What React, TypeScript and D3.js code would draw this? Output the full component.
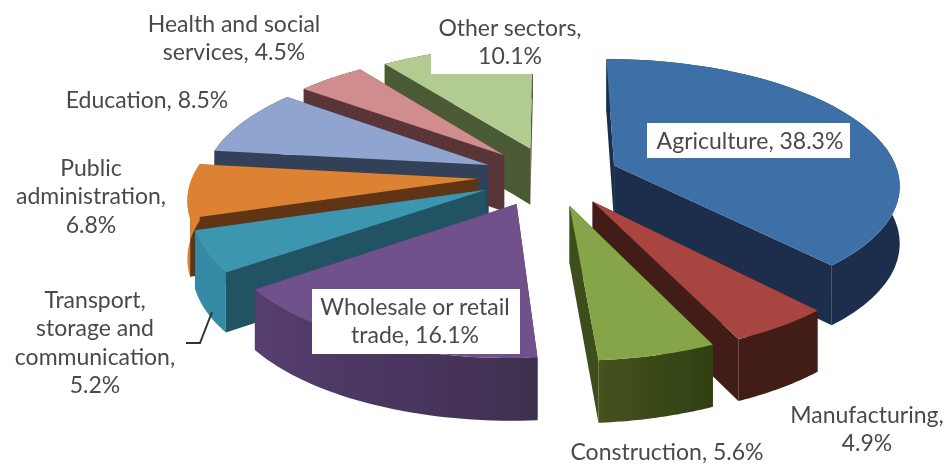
import React from "react";
import * as d3 from "d3";

const sectors = ["Agriculture","Manufacturing","Construction","Wholesale or retail trade","Transport, storage and communication","Public administration","Education","Health and social services","Other sectors"];
const shares = [38.3,4.9,5.6,16.1,5.2,6.8,8.5,4.5,10.1];
const topColors = ["#3e6fa6","#a94540","#86a549","#71518c","#3e96b0","#dd8233","#8fa4cf","#cf8d8d","#b2cb91"];
const sideColors = ["#1a2f4b","#431a16","#3c4d1b","#4c3666","#225263","#5e3413","#323f58","#5a3637","#4a5a35"];
const rimStart = ["#1a2f4b","#431a16","#45521f","#553d6f","#358ba6","#dd8233","#323f58","#5a3637","#4a5a35"];
const rimEnd = ["#1a2f4b","#431a16","#2f4010","#3e2f4f","#358ba6","#dd8233","#323f58","#5a3637","#4a5a35"];
const labels: {lines:string[];x:number;y:number;box?:[number,number,number,number]}[] = [
  {lines:["Agriculture, 38.3%"],x:750,y:149,box:[647,123,203,35]},
  {lines:["Manufacturing,","4.9%"],x:867,y:423},
  {lines:["Construction, 5.6%"],x:667,y:460},
  {lines:["Wholesale or retail","trade, 16.1%"],x:415,y:315,box:[312,289,208,65]},
  {lines:["Transport,","storage and","communication,","5.2%"],x:95,y:308},
  {lines:["Public","administration,","6.8%"],x:91,y:176},
  {lines:["Education, 8.5%"],x:147,y:108},
  {lines:["Health and social","services, 4.5%"],x:234,y:32},
  {lines:["Other sectors,","10.1%"],x:510,y:36,box:[431,12,160,62]},
];

const cx=546, cy=176, Sx=285, Sy=124, K=0.14, EXPLODE=0.24, DEPTH=57;
const sliceNudge = [5,8,6,0,2,0,5,5,5];
function project(X:number,Y:number,bottom:boolean,dx:number):[number,number]{
  const w=1+K*Y;
  const sx=cx+dx+Sx*X/w;
  const sy=cy-Sy*Y/w+(bottom?DEPTH/Math.sqrt(w):0);
  return [sx,sy];
}
const line=d3.line().curve(d3.curveLinearClosed);
const pieGen=d3.pie<number>().sort(null).startAngle(0).endAngle(2*Math.PI);

export default function App(){
  const arcs=pieGen(shares);
  const slices=arcs.map((a,i)=>{
    const mid=(a.startAngle+a.endAngle)/2;
    const ox=Math.sin(mid)*EXPLODE, oy=Math.cos(mid)*EXPLODE;
    const angles=d3.range(0,41).map(t=>a.startAngle+(a.endAngle-a.startAngle)*t/40);
    const rimW=angles.map(t=>[ox+Math.sin(t),oy+Math.cos(t)] as [number,number]);
    const apex:[number,number]=[ox,oy];
    const top=(p:[number,number])=>project(p[0],p[1],false,sliceNudge[i]);
    const bot=(p:[number,number])=>project(p[0],p[1],true,sliceNudge[i]);
    return {i,mid,
      topPath:line([top(apex),...rimW.map(top)])!,
      rimPath:line([...rimW.map(top),...rimW.slice().reverse().map(bot)])!,
      startWall:line([top(apex),top(rimW[0]),bot(rimW[0]),bot(apex)])!,
      endWall:line([top(apex),top(rimW[40]),bot(rimW[40]),bot(apex)])!,
    };
  });
  const order=slices.slice().sort((a,b)=>Math.cos(b.mid)-Math.cos(a.mid));
  return (
    <svg width={947} height={464} style={{position:"absolute",left:0,top:0,background:"#fff"}} fontFamily="Lato" fontSize={23} fill="#4a4a4a">
      <defs>
        <filter id="soft" x="-2%" y="-2%" width="104%" height="104%">
          <feGaussianBlur stdDeviation="0.6"/>
        </filter>
        {sectors.map((_,i)=>(
          <linearGradient key={i} id={`rim${i}`}>
            <stop offset="0" stopColor={rimStart[i]}/>
            <stop offset="1" stopColor={rimEnd[i]}/>
          </linearGradient>
        ))}
      </defs>
      <g filter="url(#soft)">
        <g>
          {order.map(s=>(
            <g key={s.i}>
              <path d={s.startWall} fill={sideColors[s.i]}/>
              <path d={s.endWall} fill={sideColors[s.i]}/>
              <path d={s.rimPath} fill={`url(#rim${s.i})`}/>
              <path d={s.topPath} fill={topColors[s.i]}/>
            </g>
          ))}
        </g>
        <path d="M212,312L200,343L186,343" fill="none" stroke="#333" strokeWidth={2}/>
        {labels.map((l,i)=>(
          <g key={sectors[i]}>
            {l.box && <rect x={l.box[0]} y={l.box[1]} width={l.box[2]} height={l.box[3]} fill="#fff"/>}
            <text textAnchor="middle">
              {l.lines.map((t,j)=><tspan key={j} x={l.x} y={l.y+j*28.3}>{t}</tspan>)}
            </text>
          </g>
        ))}
      </g>
    </svg>
  );
}
